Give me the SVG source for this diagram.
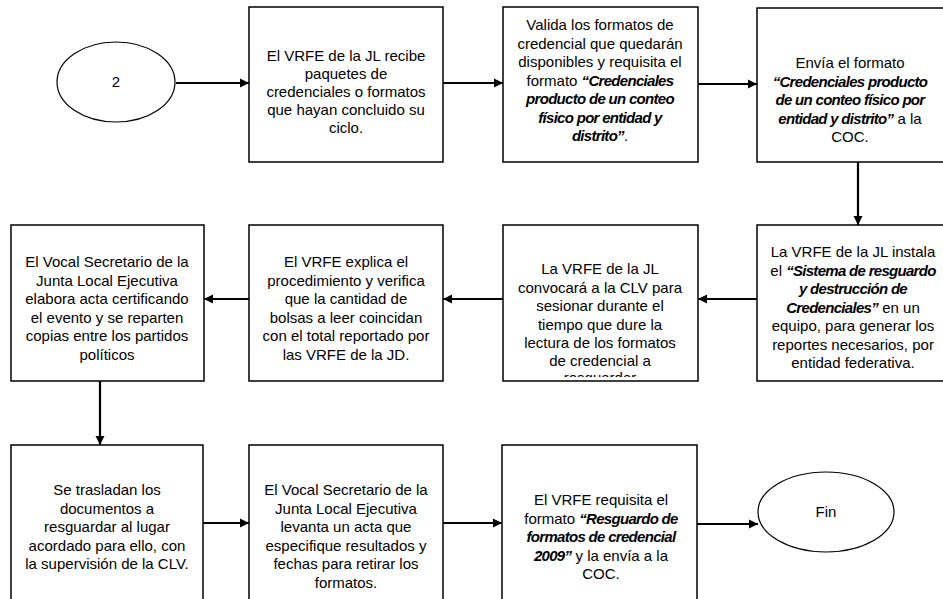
<svg xmlns="http://www.w3.org/2000/svg" width="943" height="599" viewBox="0 0 943 599">
<defs>
<style>
.box{fill:#fff;stroke:#000;stroke-width:1.5}
.ell{fill:#fff;stroke:#000;stroke-width:1.2}
.t{font-family:"Liberation Sans",Arial,sans-serif;font-size:15px;fill:#000;text-anchor:middle}
.bi{font-weight:bold;font-style:italic;letter-spacing:-0.7px}
.c{fill:none;stroke:#000;stroke-width:2.2;marker-end:url(#ah)}
</style>
<marker id="ah" markerUnits="userSpaceOnUse" markerWidth="10" markerHeight="10" refX="9" refY="5" orient="auto">
<path d="M0,0.5 L9,5 L0,9.5 z" fill="#000"/>
</marker>
<clipPath id="clip5"><rect x="503" y="225" width="195" height="152"/></clipPath>
</defs>
<rect width="943" height="599" fill="#fff"/>
<g id="connectors">
<path class="c" d="M176,83 H249"/>
<path class="c" d="M443,83 H503"/>
<path class="c" d="M698,84 H757"/>
<path class="c" d="M858,162 V225"/>
<path class="c" d="M757,299 H698"/>
<path class="c" d="M503,299 H443"/>
<path class="c" d="M249,299 H204"/>
<path class="c" d="M100,381 V445"/>
<path class="c" d="M203,523 H249"/>
<path class="c" d="M443,523 H502"/>
<path class="c" d="M697,524 H758"/>
</g>
<g id="start">
<ellipse class="ell" cx="116" cy="82" rx="59" ry="40"/>
<text class="t" x="116" y="87">2</text>
</g>
<g id="n1">
<rect class="box" x="249" y="7" width="194" height="155"/>
<text class="t"><tspan x="346" y="61">El VRFE de la JL recibe</tspan><tspan x="346" y="79">paquetes de</tspan><tspan x="346" y="97">credenciales o formatos</tspan><tspan x="346" y="115">que hayan concluido su</tspan><tspan x="346" y="133">ciclo.</tspan></text>
</g>
<g id="n2">
<rect class="box" x="503" y="7" width="195" height="155"/>
<text class="t"><tspan x="600" y="30">Valida los formatos de</tspan><tspan x="600" y="48.5">credencial que quedarán</tspan><tspan x="600" y="67">disponibles y requisita el</tspan><tspan x="600" y="85.5">formato <tspan class="bi">“Credenciales</tspan></tspan><tspan x="600" y="104" class="bi">producto de un conteo</tspan><tspan x="600" y="122.5" class="bi">físico por entidad y</tspan><tspan x="600" y="141"><tspan class="bi">distrito”</tspan>.</tspan></text>
</g>
<g id="n3">
<rect class="box" x="757" y="8" width="200" height="154"/>
<text class="t"><tspan x="850" y="68">Envía el formato</tspan><tspan x="850" y="86.5" class="bi">“Credenciales producto</tspan><tspan x="850" y="105" class="bi">de un conteo físico por</tspan><tspan x="850" y="123.5"><tspan class="bi">entidad y distrito”</tspan> a la</tspan><tspan x="850" y="142">COC.</tspan></text>
</g>
<g id="n4">
<rect class="box" x="757" y="225" width="200" height="156"/>
<text class="t"><tspan x="853" y="257">La VRFE de la JL instala</tspan><tspan x="853" y="275.5">el <tspan class="bi">“Sistema de resguardo</tspan></tspan><tspan x="853" y="294" class="bi">y destrucción de</tspan><tspan x="853" y="312.5"><tspan class="bi">Credenciales”</tspan> en un</tspan><tspan x="853" y="331">equipo, para generar los</tspan><tspan x="853" y="349.5">reportes necesarios, por</tspan><tspan x="853" y="368">entidad federativa.</tspan></text>
</g>
<g id="n5">
<rect class="box" x="503" y="225" width="195" height="156"/>
<text class="t" clip-path="url(#clip5)"><tspan x="600" y="274">La VRFE de la JL</tspan><tspan x="600" y="292.5">convocará a la CLV para</tspan><tspan x="600" y="311">sesionar durante el</tspan><tspan x="600" y="329.5">tiempo que dure la</tspan><tspan x="600" y="348">lectura de los formatos</tspan><tspan x="600" y="366">de credencial a</tspan><tspan x="600" y="383">resguardar</tspan></text>
</g>
<g id="n6">
<rect class="box" x="249" y="225" width="194" height="156"/>
<text class="t"><tspan x="346" y="267">El VRFE explica el</tspan><tspan x="346" y="285.5">procedimiento y verifica</tspan><tspan x="346" y="304">que la cantidad de</tspan><tspan x="346" y="322.5">bolsas a leer coincidan</tspan><tspan x="346" y="341">con el total reportado por</tspan><tspan x="346" y="359.5">las VRFE de la JD.</tspan></text>
</g>
<g id="n7">
<rect class="box" x="11" y="225" width="193" height="156"/>
<text class="t"><tspan x="107" y="267">El Vocal Secretario de la</tspan><tspan x="107" y="285.5">Junta Local Ejecutiva</tspan><tspan x="107" y="304">elabora acta certificando</tspan><tspan x="107" y="322.5">el evento y se reparten</tspan><tspan x="107" y="341">copias entre los partidos</tspan><tspan x="107" y="359.5">políticos</tspan></text>
</g>
<g id="n8">
<rect class="box" x="11" y="445" width="192" height="170"/>
<text class="t"><tspan x="107" y="495">Se trasladan los</tspan><tspan x="107" y="513.5">documentos a</tspan><tspan x="107" y="532">resguardar al lugar</tspan><tspan x="107" y="550.5">acordado para ello, con</tspan><tspan x="107" y="569">la supervisión de la CLV.</tspan></text>
</g>
<g id="n9">
<rect class="box" x="249" y="445" width="194" height="170"/>
<text class="t"><tspan x="346" y="495">El Vocal Secretario de la</tspan><tspan x="346" y="513.5">Junta Local Ejecutiva</tspan><tspan x="346" y="532">levanta un acta que</tspan><tspan x="346" y="550.5">especifique resultados y</tspan><tspan x="346" y="569">fechas para retirar los</tspan><tspan x="346" y="587.5">formatos.</tspan></text>
</g>
<g id="n10">
<rect class="box" x="502" y="445" width="195" height="170"/>
<text class="t"><tspan x="601" y="505">El VRFE requisita el</tspan><tspan x="601" y="523.5">formato <tspan class="bi">“Resguardo de</tspan></tspan><tspan x="601" y="542" class="bi">formatos de credencial</tspan><tspan x="601" y="560.5"><tspan class="bi">2009”</tspan> y la envía a la</tspan><tspan x="601" y="579">COC.</tspan></text>
</g>
<g id="end">
<ellipse class="ell" cx="826" cy="512" rx="68" ry="40"/>
<text class="t" x="826" y="517">Fin</text>
</g>
</svg>
